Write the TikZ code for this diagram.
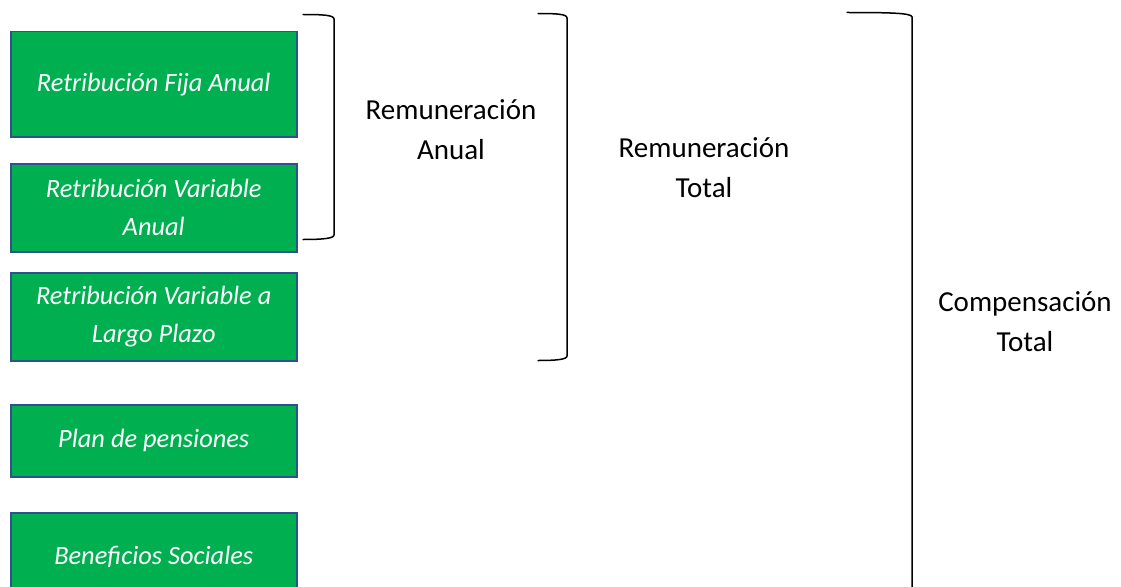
\documentclass[tikz,border=0pt]{standalone}
\usepackage{fontspec}
\setmainfont{Carlito}
\definecolor{boxgreen}{HTML}{00B050}
\definecolor{boxblue}{HTML}{2F528F}
\begin{document}
\begin{tikzpicture}[x=1pt,y=-1pt,
  item/.style={draw=boxblue, line width=1.5pt, fill=boxgreen, text=white,
    font=\fontsize{26.4}{38}\selectfont\itshape, align=center,
    minimum width=286pt, inner sep=0pt, anchor=north west},
  lbl/.style={font=\fontsize{29}{40}\selectfont, align=center, inner sep=0pt},
  brk/.style={line width=1.5pt, line cap=round}]
\useasboundingbox (0,0) rectangle (1121,586);
\clip (0,0) rectangle (1121,586);
\node[item, minimum height=105pt] (b1) at (10,31) {Retribución Fija Anual};
\node[item, minimum height=88pt] (b2) at (10,163) {Retribución Variable\\Anual};
\node[item, minimum height=88pt] (b3) at (10,272) {Retribución Variable a\\Largo Plazo};
\node[item, minimum height=72pt] (b4) at (10,404) {Plan de pensiones};
\node[item, minimum height=88pt] (b5) at (10,512) {Beneficios Sociales};
\node[lbl] (l1) at (451,129.5) {Remuneración\\Anual};
\node[lbl] (l2) at (704,167.5) {Remuneración\\Total};
\node[lbl] (l3) at (1025,321.5) {Compensación\\Total};
% brackets
\coordinate (a1) at (303,14.5);
\coordinate (a2) at (303,239.5);
\draw[brk] (a1) .. controls (322,14.5) and (334,15) .. (334,19) -- (334,235) .. controls (334,238.5) and (322,239.5) .. (a2);
\coordinate (c1) at (538,13.5);
\coordinate (c2) at (538,360.5);
\draw[brk] (c1) .. controls (556,13.5) and (567,14) .. (567,18) -- (567,356) .. controls (567,359.5) and (556,360.5) .. (c2);
\coordinate (d1) at (847,12.5);
\coordinate (d2) at (912,600);
\draw[brk] (d1) .. controls (890,12.5) and (912,13) .. (912,17) -- (d2);
\end{tikzpicture}
\end{document}
